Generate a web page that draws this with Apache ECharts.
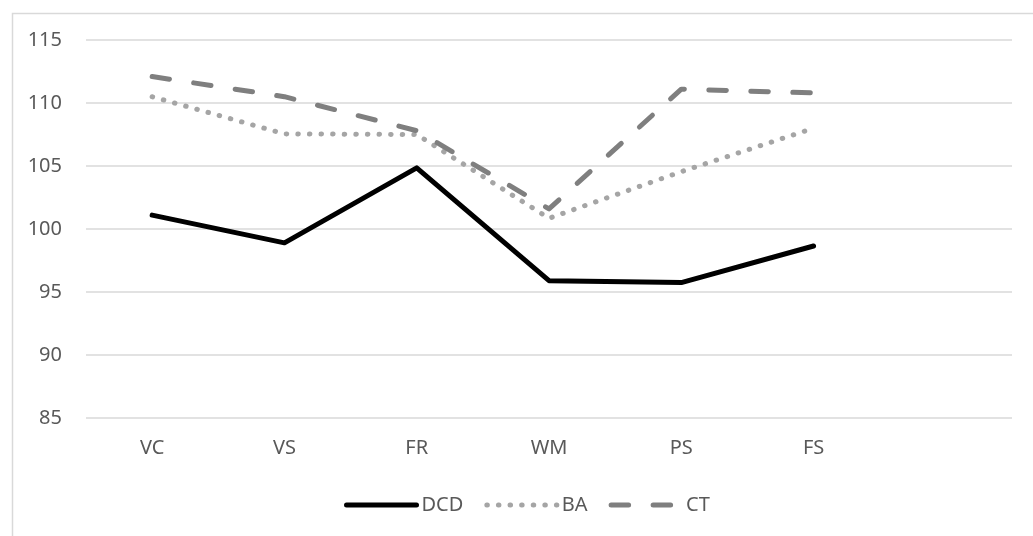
<!DOCTYPE html>
<html>
<head>
<meta charset="utf-8">
<script src="https://cdn.jsdelivr.net/npm/echarts@6/dist/echarts.min.js"></script>
<style>html,body{margin:0;padding:0;background:#fff;}#c{width:1033px;height:536px;}</style>
</head>
<body>
<div id="c"></div>
<script>
const categories = ['VC', 'VS', 'FR', 'WM', 'PS', 'FS', ''];
const seriesNames = ['DCD', 'BA', 'CT'];
const dcd = [101.1, 98.9, 104.85, 95.9, 95.75, 98.65];
const ba = [110.5, 107.55, 107.5, 100.85, 104.55, 108.0];
const ct = [112.1, 110.5, 107.8, 101.6, 111.1, 110.8];
const yTicks = { min: 85, max: 115, interval: 5 };

const font = 'Noto Sans';
const styles = [
  { color: '#000000', width: 5, type: 'solid' },
  { color: '#a5a5a5', width: 5, type: [0.5, 11.1] },
  { color: '#7f7f7f', width: 5, type: [17.5, 24.5] }
];
const chart = echarts.init(document.getElementById('c'));
chart.setOption({
  animation: false,
  backgroundColor: '#fff',
  graphic: [{
    type: 'rect', left: 10, top: 11, silent: true,
    shape: { width: 1100, height: 600 },
    style: { fill: 'none', stroke: '#d9d9d9', lineWidth: 1.5 }
  }],
  grid: { left: 86, right: 21, top: 40, bottom: 118 },
  legend: {
    data: seriesNames.map((n, i) => ({
      name: n,
      itemStyle: { color: 'rgba(0,0,0,0)', borderWidth: 0, opacity: 0 },
      lineStyle: { color: styles[i].color, width: styles[i].width, type: styles[i].type, cap: 'round' }
    })),
    left: 339, top: 490,
    itemWidth: 70, itemHeight: 14, itemGap: 21,
    textStyle: { fontFamily: font, fontSize: 20, color: '#595959' }
  },
  xAxis: {
    type: 'category', data: categories, boundaryGap: true,
    axisLine: { show: false }, axisTick: { show: false },
    axisLabel: { fontFamily: font, fontSize: 20, color: '#595959', margin: 20 }
  },
  yAxis: {
    type: 'value', min: yTicks.min, max: yTicks.max, interval: yTicks.interval,
    axisLine: { show: false }, axisTick: { show: false },
    axisLabel: { fontFamily: font, fontSize: 20, color: '#595959', margin: 24 },
    splitLine: { lineStyle: { color: '#d9d9d9', width: 1.5 } }
  },
  series: [dcd, ba, ct].map((d, i) => ({
    name: seriesNames[i], type: 'line', data: d, symbol: 'none', color: styles[i].color,
    lineStyle: { color: styles[i].color, width: styles[i].width, type: styles[i].type, cap: 'round', join: 'round' }
  }))
});
</script>
</body>
</html>
